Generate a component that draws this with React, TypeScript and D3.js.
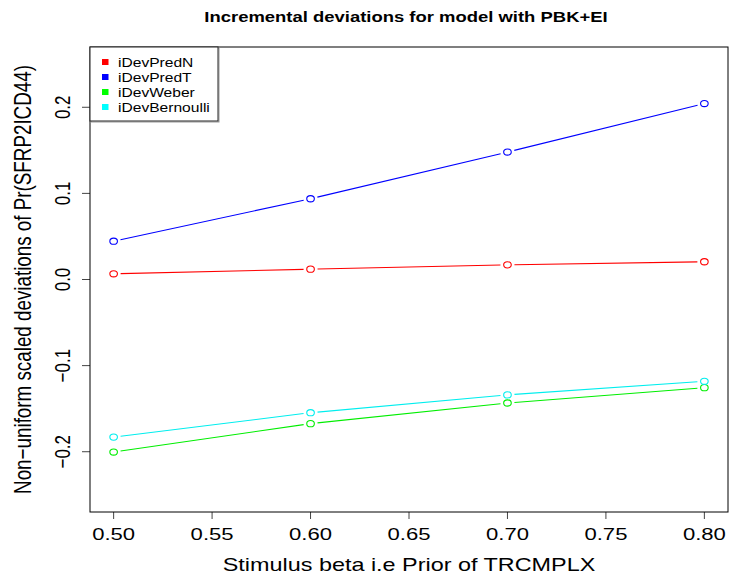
import * as d3 from "d3";

// values
const stimulus = [0.5, 0.6, 0.7, 0.8];
const iDevPredN = [0.0066, 0.012, 0.017, 0.0206];
const iDevPredT = [0.0445, 0.0938, 0.148, 0.2043];
const iDevWeber = [-0.2004, -0.1674, -0.1434, -0.1256];
const iDevBernoulli = [-0.183, -0.1547, -0.134, -0.1182];

const seriesNames = ["iDevPredN", "iDevPredT", "iDevWeber", "iDevBernoulli"];
const seriesValues = [iDevPredN, iDevPredT, iDevWeber, iDevBernoulli];
const seriesColors = ["#ff0000", "#0000ff", "#00ee00", "#00eeee"];
const legendColors = ["#ff0000", "#0000ff", "#00ff00", "#00ffff"];

const xTicks = [0.5, 0.55, 0.6, 0.65, 0.7, 0.75, 0.8];
const yTicks = [-0.2, -0.1, 0.0, 0.1, 0.2];

const width = 730;
const height = 576;
const marginTop = 47;
const marginRight = 2;
const marginBottom = 64;
const marginLeft = 90;

// the reference is stretched horizontally, so text is widened too
const SX = 1.3;
const font = "'Liberation Sans', Arial, Helvetica, sans-serif";

export default function App() {
  const x = d3.scaleLinear().domain([0.488, 0.812]).range([marginLeft, width - marginRight]);
  const y = d3.scaleLinear().domain([-0.27, 0.27]).range([height - marginBottom, marginTop]);

  const fmtX = d3.format(".2f");
  const fmtY = (v) => d3.format(".1f")(v).replace("-", "\u2212");

  // lines with gaps around the points (R type = "b")
  const gap = 7;
  const segments = (vals) =>
    d3.pairs(vals.map((v, i) => [x(stimulus[i]), y(v)])).map(([a, b]) => {
      const dx = b[0] - a[0];
      const dy = b[1] - a[1];
      const len = Math.hypot(dx, dy);
      const ux = dx / len;
      const uy = dy / len;
      return [a[0] + ux * gap, a[1] + uy * gap, b[0] - ux * gap, b[1] - uy * gap];
    });

  const bottom = height - marginBottom;

  return (
    <svg width={width} height={height} style={{ position: "absolute", left: 0, top: 0, background: "#fff" }} fontFamily={font}>
      <text transform={`translate(406,22) scale(${SX},1)`} textAnchor="middle" fontSize="14.2" fontWeight="bold">
        Incremental deviations for model with PBK+EI
      </text>

      {/* x axis */}
      <g>
        {xTicks.map((t) => (
          <g key={t}>
            <line x1={x(t)} x2={x(t)} y1={bottom} y2={bottom + 7} stroke="#444" />
            <text transform={`translate(${x(t)},540) scale(${SX},1)`} textAnchor="middle" fontSize="17">
              {fmtX(t)}
            </text>
          </g>
        ))}
        <text transform={`translate(409,571) scale(${SX},1)`} textAnchor="middle" fontSize="18">
          Stimulus beta i.e Prior of TRCMPLX
        </text>
      </g>

      {/* y axis */}
      <g>
        {yTicks.map((t) => (
          <g key={t}>
            <line x1={marginLeft - 8} x2={marginLeft} y1={y(t)} y2={y(t)} stroke="#444" />
            <text transform={`translate(70,${y(t)}) scale(${SX},1) rotate(-90)`} textAnchor="middle" fontSize="17">
              {fmtY(t)}
            </text>
          </g>
        ))}
        <text
          transform={`translate(31,${(marginTop + bottom) / 2}) scale(${SX},1) rotate(-90)`}
          textAnchor="middle"
          fontSize="18.8"
        >
          Non{"\u2212"}uniform scaled deviations of Pr(SFRP2ICD44)
        </text>
      </g>

      {/* series */}
      {seriesValues.map((vals, s) => (
        <g key={seriesNames[s]} stroke={seriesColors[s]} fill="none" strokeWidth="1.1">
          {segments(vals).map((d, i) => (
            <line key={i} x1={d[0]} y1={d[1]} x2={d[2]} y2={d[3]} />
          ))}
          {vals.map((v, i) => (
            <ellipse key={i} cx={x(stimulus[i])} cy={y(v)} rx={3.8} ry={3.1} />
          ))}
        </g>
      ))}

      {/* plot box */}
      <rect x={marginLeft} y={marginTop} width={width - marginRight - marginLeft} height={bottom - marginTop} fill="none" stroke="#000" />

      {/* legend */}
      <g>
        <rect x={marginLeft + 1} y={marginTop + 1} width={128} height={74} fill="none" stroke="#999" />
        <rect x={marginLeft} y={marginTop} width={128} height={74} fill="#fff" stroke="#222" />
        {seriesNames.map((name, i) => (
          <g key={name}>
            <rect x={102} y={62 + i * 15 - 3} width={6.5} height={6} fill={legendColors[i]} />
            <text transform={`translate(118,${62 + i * 15 + 5}) scale(1.2,1)`} fontSize="13">
              {name}
            </text>
          </g>
        ))}
      </g>
    </svg>
  );
}
